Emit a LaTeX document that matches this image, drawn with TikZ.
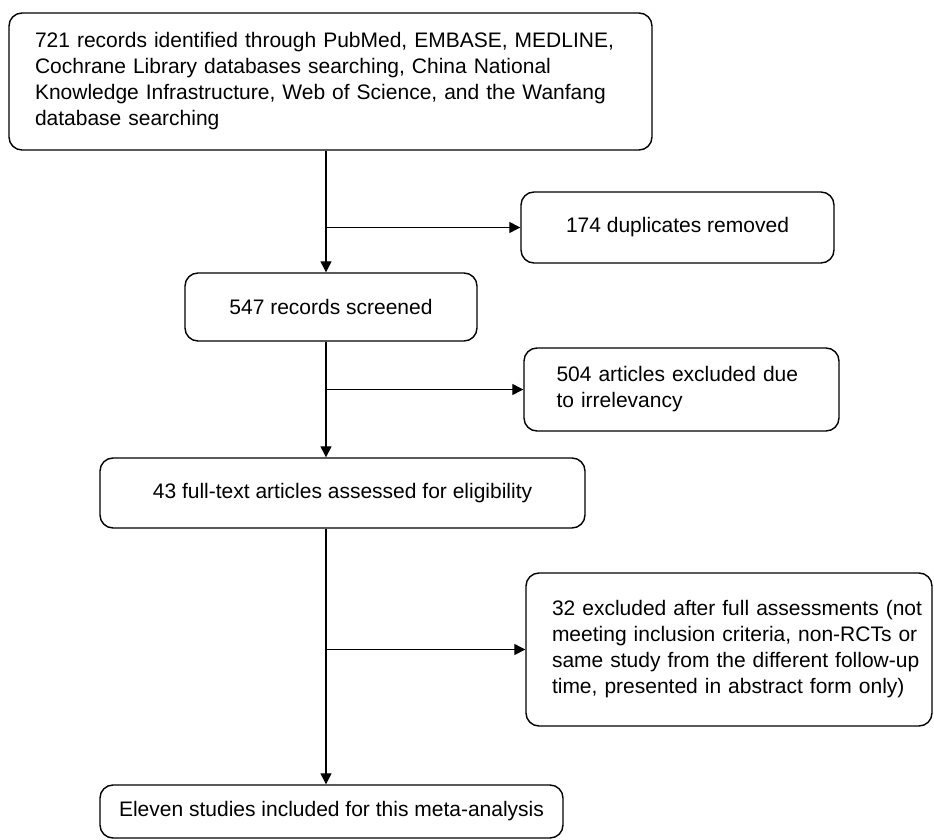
\documentclass[tikz,border=0pt]{standalone}
\usepackage{fontspec}
\setmainfont{Liberation Sans}
\usetikzlibrary{arrows.meta}
\begin{document}
\begin{tikzpicture}[x=1pt,y=-1pt,
  box/.style={draw, line width=1.4pt, rounded corners=13pt, inner sep=0pt,
    font=\fontsize{21}{26}\selectfont},
  arr/.style={line width=1.3pt, -{Triangle[length=11pt,width=11pt]}},
  ln/.style={line width=1.3pt}]
\useasboundingbox (0,0) rectangle (934,840);
\coordinate (spine) at (326,0);
\node[box, minimum width=643pt, minimum height=137pt, text width=591pt, align=left] (A) at (330.5,81.5)
  {721 records identified through PubMed, EMBASE, MEDLINE,\\
   Cochrane Library databases searching, China National\\
   Knowledge Infrastructure, Web of Science, and the Wanfang\\
   database searching};
\node[box, minimum width=313pt, minimum height=71pt] (B) at (677.5,227.5) {174 duplicates removed};
\node[box, minimum width=292pt, minimum height=68pt] (C) at (331,307) {547 records screened};
\node[box, minimum width=315pt, minimum height=83pt, text width=250pt, align=left] (D) at (681.5,389.5)
  {504 articles excluded due\\to irrelevancy};
\node[box, minimum width=485pt, minimum height=70pt] (E) at (342.5,493) {43 full-text articles assessed for eligibility};
\node[box, minimum width=406pt, minimum height=153pt, text width=400pt, align=left] (F) at (729,649.5)
  {\hspace*{23pt}32 excluded after full assessments (not\\
   \hspace*{23pt}meeting inclusion criteria, non-RCTs or\\
   \hspace*{23pt}same study from the different follow-up\\
   \hspace*{23pt}time, presented in abstract form only)};
\node[box, minimum width=463pt, minimum height=53pt] (G) at (331.5,811.5) {Eleven studies included for this meta-analysis};
% spine arrows
\draw[arr] (A.south -| spine) -- (C.north -| spine);
\draw[arr] (C.south -| spine) -- (E.north -| spine);
\draw[arr] (E.south -| spine) -- (G.north -| spine);
% side branches
\draw[arr] (B.west -| spine) -- (B.west);
\draw[arr] (D.west -| spine) -- (D.west);
\draw[arr] (F.west -| spine) -- (F.west);
\end{tikzpicture}
\end{document}
